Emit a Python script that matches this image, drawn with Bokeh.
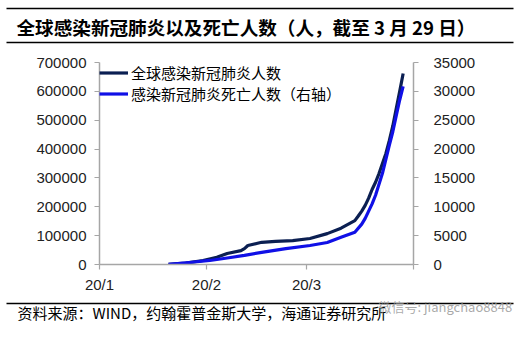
from bokeh.plotting import figure
from bokeh.layouts import column, row
from bokeh.models import Range1d, LinearAxis, FixedTicker, BasicTickFormatter
from bokeh.core.properties import value
from bokeh.embed import file_html
from bokeh.resources import INLINE

# ---- data (day index: 0 = 20/1) ----
case_days = [20, 25, 30, 34, 37, 41, 42, 43, 47, 51, 56, 61, 66, 70, 74, 75, 76, 77, 78,
             79, 80, 81, 82, 83, 84, 85, 86, 87, 88]
cases = [500, 5000, 14000, 25000, 38000, 48000, 55000, 66000, 77000, 80000, 83000, 90000,
         107000, 126000, 152000, 168000, 185000, 205000, 230000, 260000, 285000, 315000,
         350000, 385000, 430000, 480000, 540000, 600000, 662000]
death_days = [20, 26, 32, 37, 42, 47, 54, 61, 66, 70, 74, 76, 77, 79, 80, 82, 84, 85, 86, 87, 88]
deaths = [20, 350, 700, 1130, 1580, 2100, 2750, 3290, 3810, 4700, 5600, 7000, 8000, 10500,
          12000, 15800, 20700, 23000, 25800, 28500, 30850]
x_ticks = [0, 31, 60, 91]
x_tick_labels = ["20/1", "20/2", "20/3", ""]
left_ticks = [0, 100000, 200000, 300000, 400000, 500000, 600000, 700000]
right_ticks = [0, 5000, 10000, 15000, 20000, 25000, 30000, 35000]
title_text = "全球感染新冠肺炎以及死亡人数（人，截至 3 月 29 日）"
source_text = "资料来源：WIND，约翰霍普金斯大学，海通证券研究所"
watermark_text = "微信号: jiangchao8848"
series_names = ["全球感染新冠肺炎人数", "感染新冠肺炎死亡人数（右轴）"]

CJK = "Noto Sans CJK SC"
LAT = "Liberation Sans"
AX = "#a6a6a6"
W = 519

# ---- header ----
top = figure(width=W, height=50, x_range=Range1d(0, W), y_range=Range1d(50, 0),
             x_axis_type=None, y_axis_type=None, toolbar_location=None,
             output_backend="svg", min_border=0, outline_line_color=None)
top.grid.visible = False
top.segment(x0=[6, 6], y0=[8, 42], x1=[513, 513], y1=[8, 42], line_color="black", line_width=1.5)
top.text(x=[16], y=[26], text=[title_text], text_font=value(CJK), text_font_size="18.6px",
         text_font_style="bold", text_baseline="middle", text_align="left", text_color="black")

# ---- main chart ----
p = figure(width=W, height=245, x_range=Range1d(0, 91), y_range=Range1d(0, 700000),
           toolbar_location=None, output_backend="svg",
           min_border_left=99, min_border_right=W - 413, min_border_top=12, min_border_bottom=31,
           outline_line_color=None)
p.grid.visible = False
p.extra_y_ranges = {"r": Range1d(0, 35000)}

p.line(case_days, cases, line_color="#0b1f52", line_width=3.2, line_join="round",
       legend_label=series_names[0])
p.line(death_days, deaths, line_color="#1010e6", line_width=3.2, line_join="round",
       y_range_name="r", legend_label=series_names[1])

raxis = LinearAxis(y_range_name="r")
p.add_layout(raxis, "right")

for ax in [p.xaxis[0], p.yaxis[0], raxis]:
    ax.axis_line_color = AX
    ax.axis_line_width = 1.5
    ax.major_tick_line_color = AX
    ax.major_tick_line_width = 1.2
    ax.major_tick_out = 5
    ax.major_tick_in = 0
    ax.minor_tick_line_color = None
    ax.major_label_text_font = LAT
    ax.major_label_text_font_size = "15px"
    ax.major_label_text_color = "#222222"

p.xaxis[0].ticker = FixedTicker(ticks=x_ticks)
p.xaxis[0].major_label_overrides = {t: l for t, l in zip(x_ticks, x_tick_labels)}
p.xaxis[0].major_label_standoff = 6
p.yaxis[0].ticker = FixedTicker(ticks=left_ticks)
p.yaxis[0].formatter = BasicTickFormatter(use_scientific=False)
p.yaxis[0].major_label_standoff = 8
raxis.ticker = FixedTicker(ticks=right_ticks)
raxis.formatter = BasicTickFormatter(use_scientific=False)
raxis.major_label_standoff = 15

lg = p.legend[0]
lg.location = "top_left"
lg.margin = 0
lg.padding = 2
lg.spacing = -1
lg.border_line_color = None
lg.background_fill_alpha = 0
lg.glyph_width = 29
lg.glyph_height = 17
lg.label_height = 17
lg.label_standoff = 3
lg.label_text_font = CJK
lg.label_text_font_size = "15px"
lg.label_text_color = "black"

# ---- footer ----
bot = figure(width=W, height=42, x_range=Range1d(0, W), y_range=Range1d(42, 0),
             x_axis_type=None, y_axis_type=None, toolbar_location=None,
             output_backend="svg", min_border=0, outline_line_color=None)
bot.grid.visible = False
bot.segment(x0=[6], y0=[8], x1=[513], y1=[8], line_color="black", line_width=1.5)
bot.text(x=[17], y=[17], text=[source_text], text_font=value(CJK), text_font_size="15px",
         text_baseline="middle", text_align="left", text_color="black")
bot.text(x=[378], y=[11], text=[watermark_text], text_font=value(CJK), text_font_size="13px",
         text_baseline="middle", text_align="left", text_color="#9a9a9a", text_alpha=0.85)

layout = column(row(top), row(p), row(bot), spacing=0)
open("out.html", "w").write(file_html(layout, INLINE))
